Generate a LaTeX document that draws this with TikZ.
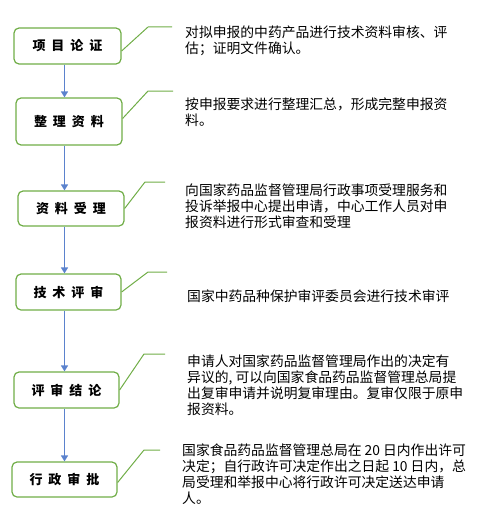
\documentclass[tikz,border=0pt]{standalone}
\usepackage{fontspec}
\setmainfont{Noto Sans CJK SC}
\usetikzlibrary{arrows.meta}
\definecolor{boxgreen}{RGB}{112,173,71}
\definecolor{flowblue}{RGB}{91,130,205}
\newcommand{\lgap}{\hspace{6pt}}
\tikzset{
  stepbox/.style={draw=boxgreen, line width=1.2pt, rounded corners=5pt, minimum width=106pt, minimum height=36pt, inner sep=0pt, font=\fontsize{13}{15}\selectfont\bfseries},
  note/.style={anchor=north west, inner sep=0pt, align=left, font=\fontsize{13.8}{16}\selectfont},
  flow/.style={flowblue, line width=1.3pt, -{Triangle[width=7pt,length=6pt]}},
  callout/.style={boxgreen, line width=1pt, line join=round}
}
\begin{document}
\begin{tikzpicture}[x=1pt, y=-1pt]
			\useasboundingbox (0,0) rectangle (489,527);
			% steps
			\node[stepbox, minimum width=107pt] (b1) at (67.5,46) {项\lgap 目\lgap 论\lgap 证};
			\node[stepbox, minimum height=47pt] (b2) at (69,121.5) {整\lgap 理\lgap 资\lgap 料};
			\node[stepbox, minimum height=35pt] (b3) at (71,208.5) {资\lgap 料\lgap 受\lgap 理};
			\node[stepbox, minimum width=105pt] (b4) at (68.5,292) {技\lgap 术\lgap 评\lgap 审};
			\node[stepbox, minimum width=105pt] (b5) at (66.5,390) {评\lgap 审\lgap 结\lgap 论};
			\node[stepbox, minimum width=105pt, minimum height=35pt] (b6) at (64.5,479.5) {行\lgap 政\lgap 审\lgap 批};
			% flow
			\coordinate (col) at (64.5,0);
			\draw[flow] (b1.south -| col) -- (b2.north -| col);
			\draw[flow] (b2.south -| col) -- (b3.north -| col);
			\draw[flow] (b3.south -| col) -- (b4.north -| col);
			\draw[flow] (b4.south -| col) -- (b5.north -| col);
			\draw[flow] (b5.south -| col) -- (b6.north -| col);
			% notes
			\node[note] (t1) at (185,26) {对拟申报的中药产品进行技术资料审核、评\\估；证明文件确认。};
			\node[note] (t2) at (185,98) {按申报要求进行整理汇总，形成完整申报资\\料。};
			\node[note] (t3) at (185,184) {向国家药品监督管理局行政事项受理服务和\\投诉举报中心提出申请，中心工作人员对申\\报资料进行形式审查和受理};
			\node[note] (t4) at (187,290) {国家中药品种保护审评委员会进行技术审评};
			\node[note] (t5) at (187,355) {申请人对国家药品监督管理局作出的决定有\\异议的, 可以向国家食品药品监督管理总局提\\出复审申请并说明复审理由。复审仅限于原申\\报资料。};
			\node[note] (t6) at (182,444) {国家食品药品监督管理总局在 20 日内作出许可\\决定；自行政许可决定作出之日起 10 日内，总\\局受理和举报中心将行政许可决定送达申请\\人。};
			% callouts
			\coordinate (k1) at (148,27);  \coordinate (e1) at (172,27);
			\coordinate (k2) at (148,91);  \coordinate (e2) at (173,91);
			\coordinate (k3) at (145,182); \coordinate (e3) at (165,182);
			\coordinate (k4) at (148,272); \coordinate (e4) at (167,272);
			\coordinate (k5) at (144,354); \coordinate (e5) at (165,354);
			\coordinate (k6) at (144,450); \coordinate (e6) at (160,450);
			\draw[callout] ([yshift=-5pt]b1.east) -- (k1) -- (e1);
			\draw[callout] ([yshift=3pt]b2.east) -- (k2) -- (e2);
			\draw[callout] (b3.east) -- (k3) -- (e3);
			\draw[callout] (b4.east) -- (k4) -- (e4);
			\draw[callout] (b5.east) -- (k5) -- (e5);
			\draw[callout] ([yshift=-3pt]b6.east) -- (k6) -- (e6);
\end{tikzpicture}
\end{document}
